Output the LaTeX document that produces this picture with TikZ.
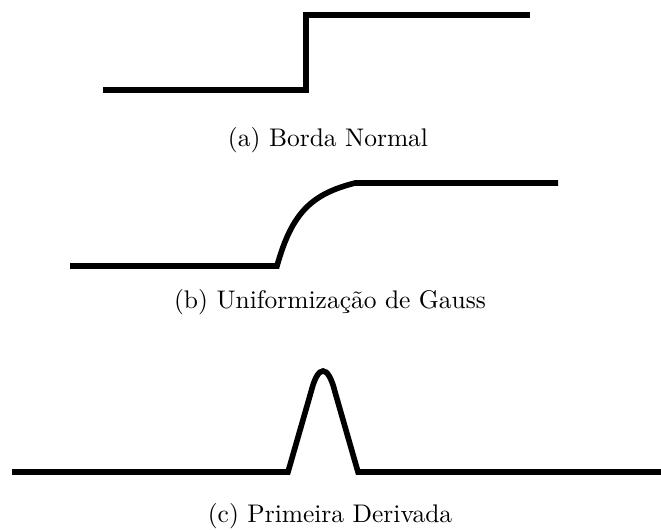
\documentclass[tikz,border=0pt]{standalone}
\usepackage{tikz}
\usepackage{color}

\begin{document}
\begin{tikzpicture}[%
      x=0.0138cm, y=-0.0138cm,
      edge/.style={color=black, line width=2.2pt, line join=miter},
      caption/.style={font=\normalsize},
      ]
      \useasboundingbox (0,0) rectangle (661,529);

      % (a) step edge
      \draw [edge] (103,90) -- (306,90) -- (306,15) -- (530,15);
      \node [caption] (capa) at (328,140) {(a) Borda Normal};

      % (b) smoothed edge
      \draw [edge] (70,266) -- (277,266)
            .. controls (292,212) and (312,194) .. (355,183) -- (558,183);
      \node [caption] (capb) at (330,302) {(b) Uniformização de Gauss};

      % (c) first derivative
      \draw [edge] (12,472) -- (288,472) -- (311,392)
            .. controls (318,364) and (328,364) .. (335,392) -- (358,472) -- (661,472);
      \node [caption] (capc) at (330,516) {(c) Primeira Derivada};
\end{tikzpicture}
\end{document}
